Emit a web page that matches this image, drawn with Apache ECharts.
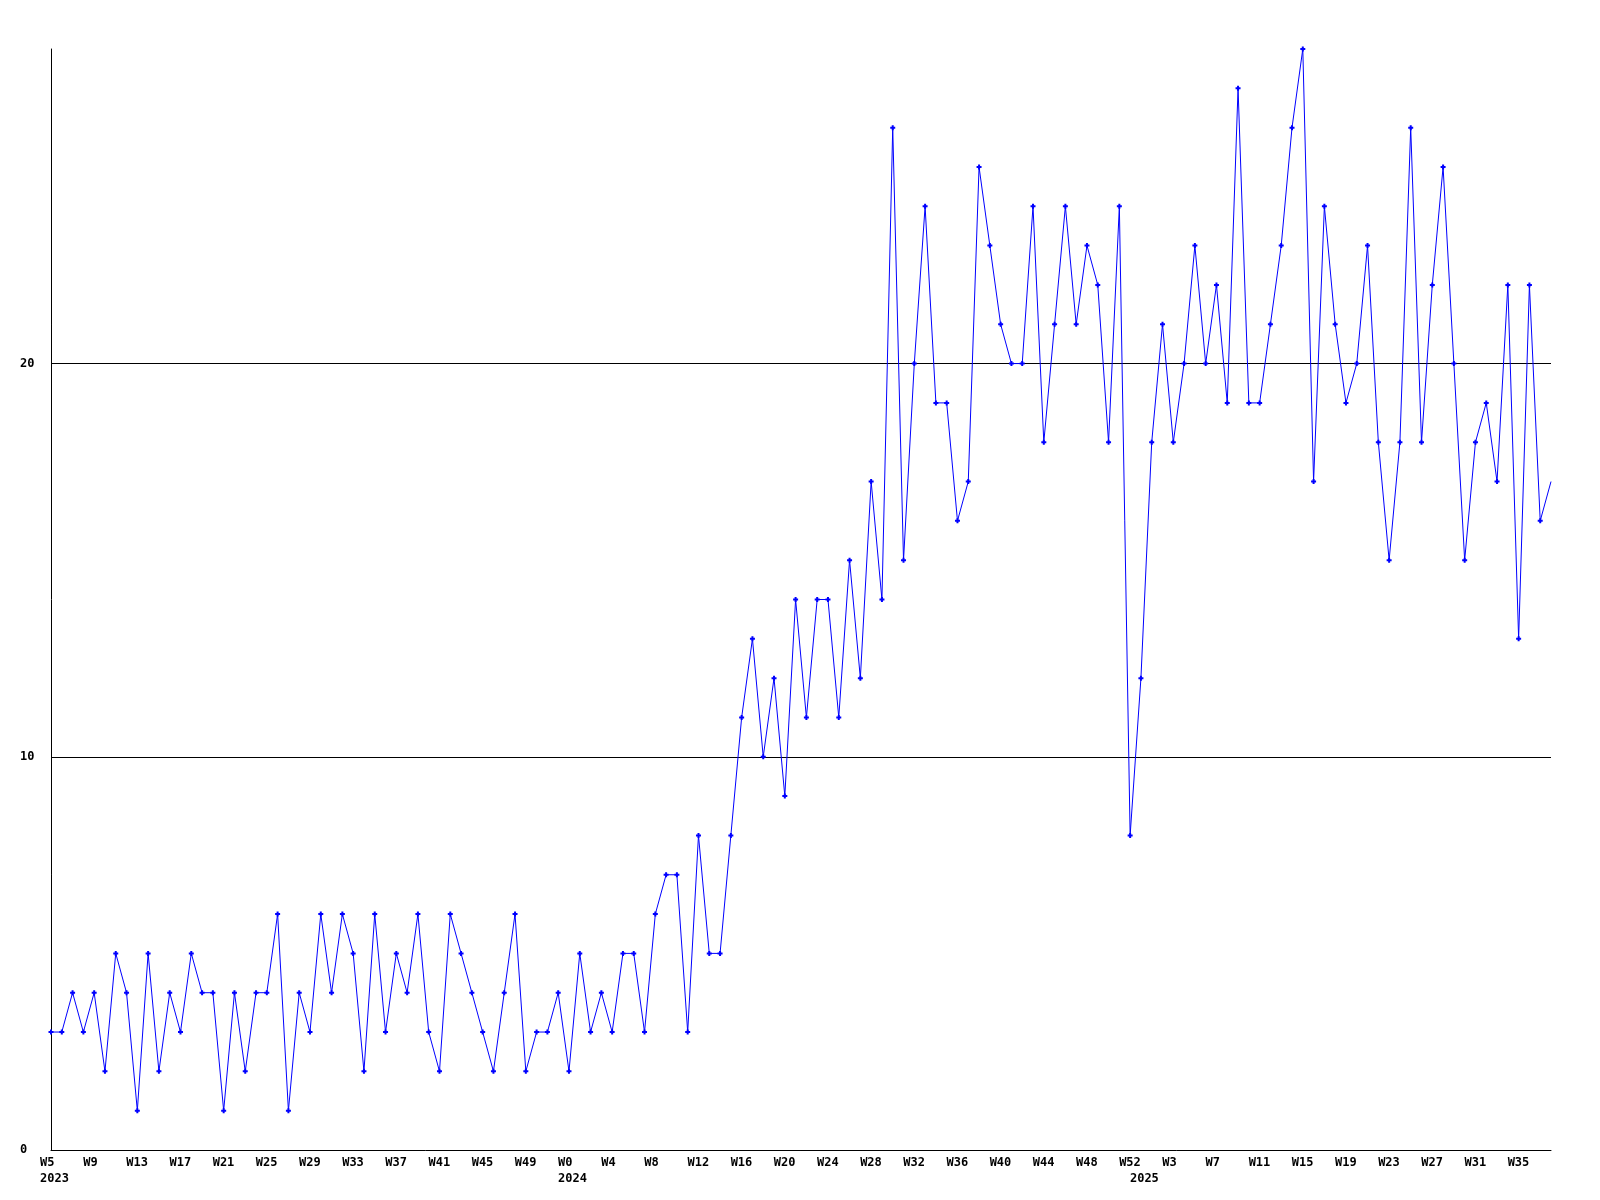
<!DOCTYPE html>
<html>
<head>
<meta charset="utf-8">
<script src="https://cdn.jsdelivr.net/npm/echarts@6/dist/echarts.min.js"></script>
<style>
html,body{margin:0;padding:0;background:#fff;}
#chart{width:1600px;height:1200px;}
</style>
</head>
<body>
<div id="chart"></div>
<script>
// Week ranges per year (year, first week, last week)
const yearRanges = [[2023, 5, 52], [2024, 0, 52], [2025, 0, 38]];

// Weekly values, one per week in order
const values = [
  3,3,4,3,4,2,5,4,1,5,
  2,4,3,5,4,4,1,4,2,4,
  4,6,1,4,3,6,4,6,5,2,
  6,3,5,4,6,3,2,6,5,4,
  3,2,4,6,2,3,3,4,2,5,
  3,4,3,5,5,3,6,7,7,3,
  8,5,5,8,11,13,10,12,9,14,
  11,14,14,11,15,12,17,14,26,15,
  20,24,19,19,16,17,25,23,21,20,
  20,24,18,21,24,21,23,22,18,24,
  8,12,18,21,18,20,23,20,22,19,
  27,19,19,21,23,26,28,17,24,21,
  19,20,23,18,15,18,26,18,22,25,
  20,15,18,19,17,22,13,22,16,17
];

// Y tick values shown
const yTicks = [0, 10, 20];
const yMax = 28;
const gridLines = [10, 20];

// Build categories
const categories = [];
const yearStart = {};
yearRanges.forEach(([y, a, b]) => {
  yearStart[categories.length] = String(y);
  for (let w = a; w <= b; w++) categories.push('W' + w);
});

const labelFont = {
  fontFamily: 'DejaVu Sans Mono',
  fontWeight: 'bold',
  fontSize: 12,
  color: '#000'
};

const plusPath = 'path://M1.5,0H3.5V1.5H5V3.5H3.5V5H1.5V3.5H0V1.5H1.5Z';
const lastIdx = values.length - 1;

const chart = echarts.init(document.getElementById('chart'), null, {renderer: 'canvas'});
chart.setOption({
  backgroundColor: '#ffffff',
  animation: false,
  grid: {left: 51, right: 49, top: 49, bottom: 50, containLabel: false, outerBoundsMode: 'none'},
  xAxis: {
    type: 'category',
    data: categories,
    boundaryGap: false,
    axisLine: {show: true, lineStyle: {color: '#000', width: 1}},
    axisTick: {show: false},
    splitLine: {show: false},
    axisLabel: Object.assign({
      interval: (i) => i % 4 === 0 || yearStart[i] !== undefined,
      hideOverlap: false,
      align: 'left',
      padding: [0, 0, 0, -11],
      margin: 5,
      lineHeight: 16,
      formatter: (v, i) => {
        let s = i % 4 === 0 ? v : '';
        if (yearStart[i] !== undefined) s += '\n' + yearStart[i];
        return s;
      }
    }, labelFont)
  },
  yAxis: {
    type: 'value',
    min: 0,
    max: yMax,
    interval: 10,
    axisLine: {show: true, lineStyle: {color: '#000', width: 1}},
    axisTick: {show: false},
    splitLine: {show: false},
    axisLabel: Object.assign({
      align: 'left',
      margin: 31,
      formatter: (v) => yTicks.indexOf(v) >= 0 ? String(v) : ''
    }, labelFont)
  },
  series: [{
    type: 'line',
    data: values,
    symbol: (v, p) => p.dataIndex === lastIdx ? 'none' : plusPath,
    symbolSize: 5,
    showAllSymbol: true,
    lineStyle: {color: '#0000ff', width: 1},
    itemStyle: {color: '#0000ff'},
    markLine: {
      silent: true,
      symbol: ['none', 'none'],
      label: {show: false},
      lineStyle: {color: '#000', width: 1, type: 'solid'},
      data: gridLines.map(g => ({yAxis: g})),
      z: 1
    },
    z: 3
  }]
});
</script>
</body>
</html>
